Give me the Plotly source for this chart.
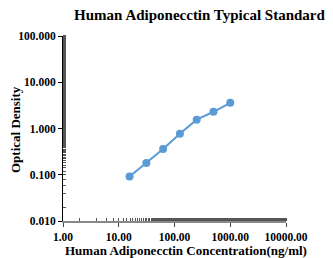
import plotly.graph_objects as go

conc = [15.625, 31.25, 62.5, 125, 250, 500, 1000]
od = [0.092, 0.18, 0.36, 0.77, 1.55, 2.3, 3.6]
x_ticks = [1, 10, 100, 1000, 10000]
x_labels = ["1.00", "10.00", "100.00", "1000.00", "10000.00"]
y_ticks = [0.01, 0.1, 1, 10, 100]
y_labels = ["0.010", "0.100", "1.000", "10.000", "100.000"]

font = "Liberation Serif"
W, H = 333, 258
L, R, T, B = 63, 47, 36, 37
pw = W - L - R
ph = H - T - B

fig = go.Figure(go.Scatter(
    x=conc, y=od, mode="lines+markers",
    line=dict(color="#5B9BD5", width=2),
    marker=dict(color="#5B9BD5", size=8),
))
fig.update_layout(
    width=W, height=H,
    margin=dict(l=L, r=R, t=T, b=B),
    paper_bgcolor="white", plot_bgcolor="white",
    showlegend=False,
    font=dict(family=font, color="black"),
    title=dict(text="<b>Human Adiponecctin Typical Standard</b>",
               font=dict(family=font, size=15, color="black"),
               x=(199.5 - L) / pw, xref="paper", xanchor="center",
               y=1 - 15 / H, yref="container", yanchor="middle"),
    annotations=[
        dict(text="<b>Human Adiponecctin Concentration(ng/ml)</b>",
             font=dict(family=font, size=13, color="black"),
             x=(186 - L) / pw, xref="paper", xanchor="center",
             y=-(250 - (T + ph)) / ph, yref="paper", yanchor="middle",
             showarrow=False),
        dict(text="<b>Optical Density</b>", textangle=-90,
             font=dict(family=font, size=13, color="black"),
             x=(15 - L) / pw, xref="paper", xanchor="center",
             y=1 - (130 - T) / ph, yref="paper", yanchor="middle",
             showarrow=False),
    ],
)
fig.update_xaxes(
    type="log", range=[0, 4], automargin=False,
    tickvals=x_ticks, ticktext=["<b>%s</b>" % t for t in x_labels],
    tickfont=dict(family=font, size=11.5, color="black"),
    showgrid=False, zeroline=False,
    showline=True, linecolor="#888888", linewidth=1.5,
    ticks="outside", ticklen=4, tickcolor="#444444", tickwidth=1,
    minor=dict(ticks="inside", ticklen=3, tickcolor="#555555", tickwidth=1, showgrid=False),
)
fig.update_yaxes(
    type="log", range=[-2, 2], automargin=False,
    tickvals=y_ticks, ticktext=["<b>%s</b>" % t for t in y_labels],
    tickfont=dict(family=font, size=11.5, color="black"),
    showgrid=False, zeroline=False,
    showline=True, linecolor="black", linewidth=1,
    ticks="outside", ticklen=4, tickcolor="black", tickwidth=1,
    minor=dict(ticks="inside", ticklen=3, tickcolor="#555555", tickwidth=1, showgrid=False),
)
fig.write_html("out.html", config={"displayModeBar": False},
               post_script="document.body.style.margin='0';document.body.style.padding='0';")
